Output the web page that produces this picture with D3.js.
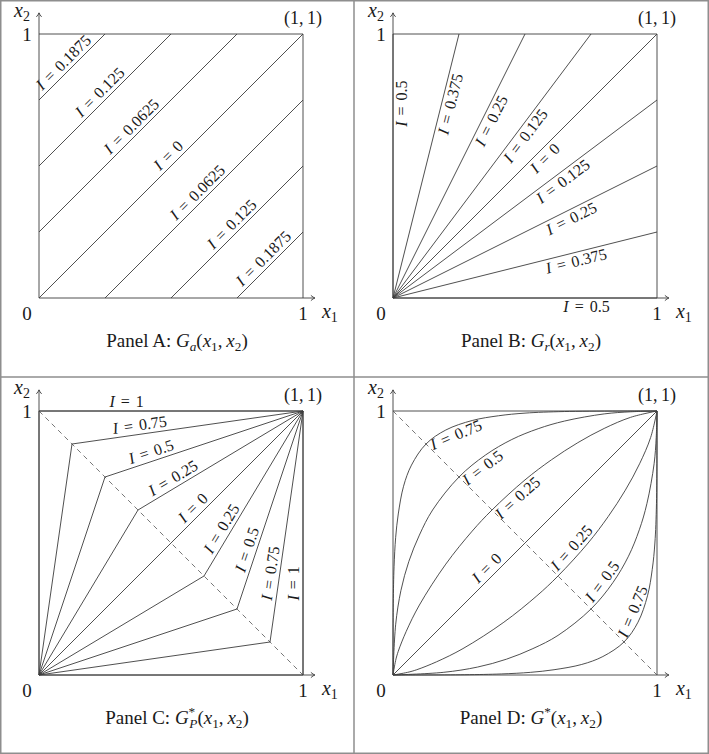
<!DOCTYPE html>
<meta charset="utf-8">
<script src="https://d3js.org/d3.v7.min.js"></script>
<style>
body { margin:0; background:#fff; }
svg { display:block; font-family:"Liberation Serif","Times New Roman",serif; }
.frame { stroke:#8e8e8e; stroke-width:1.5; fill:none; }
.axis, .box, .curve { stroke:#3c3c3c; stroke-width:0.9; fill:none; }
.diag { stroke:#555; stroke-width:0.8; stroke-dasharray:5,4; fill:none; }
text { fill:#1a1a1a; }
</style>
<body></body>
<script>

// Panel A: x2 = x1 + c
var offsetsA = [0.75, 0.5, 0.25, 0, -0.25, -0.5, -0.75];
var labelsA = ["0.1875", "0.125", "0.0625", "0", "0.0625", "0.125", "0.1875"];
var labelAtA = [0.47, 0.51, 0.5, 0.515, 0.5, 0.51, 0.5];

// Panel B: rays from the origin to the box edge
var endsB = [[0, 1], [0.25, 1], [0.5, 1], [0.75, 1], [1, 1], [1, 0.75], [1, 0.5], [1, 0.25], [1, 0]];
var labelsB = ["0.5", "0.375", "0.25", "0.125", "0", "0.125", "0.25", "0.375", "0.5"];
var labelAtB = [0.736, 0.7425, 0.686, 0.634, 0.5525, 0.624, 0.661, 0.686, 0.733];

// Panel C: origin -> kink on the anti-diagonal -> (1,1)
var kinksC = [[0, 1], [0.125, 0.875], [0.25, 0.75], [0.375, 0.625], [0.5, 0.5],
              [0.625, 0.375], [0.75, 0.25], [0.875, 0.125], [1, 0]];
var labelsC = ["1", "0.75", "0.5", "0.25", "0", "0.25", "0.5", "0.75", "1"];
var labelAtC = [0.332, 0.299, 0.248, 0.242, 0.216, 0.257, 0.285, 0.292, 0.347];

// Panel D: curves
var dUpper75 = [[0, 0], [0.001, 0.27], [0.004, 0.41], [0.01, 0.52], [0.02, 0.61], [0.04, 0.715], [0.07, 0.795],
                [0.125, 0.875], [0.2, 0.928], [0.3, 0.964], [0.4, 0.982], [0.5, 0.992], [0.65, 0.998], [1, 1]];
var dUpper50 = [[0, 0], [0.01, 0.19], [0.03, 0.32], [0.06, 0.43], [0.1, 0.53], [0.15, 0.625], [0.25, 0.75],
                [0.35, 0.833], [0.45, 0.892], [0.55, 0.933], [0.65, 0.962], [0.8, 0.989], [0.9, 0.997], [1, 1]];
var dUpper25 = [[0, 0], [0.01, 0.055], [0.02, 0.09], [0.05, 0.165], [0.1, 0.265], [0.2, 0.42], [0.3, 0.545],
                [0.375, 0.625], [0.5, 0.739], [0.6, 0.815], [0.7, 0.88], [0.8, 0.934], [0.9, 0.976], [1, 1]];
var dLine0 = [[0, 0], [1, 1]];
var dLower25 = [[0, 0], [0.055, 0.01], [0.09, 0.02], [0.165, 0.05], [0.265, 0.1], [0.42, 0.2], [0.545, 0.3],
                [0.625, 0.375], [0.739, 0.5], [0.815, 0.6], [0.88, 0.7], [0.934, 0.8], [0.976, 0.9], [1, 1]];
var dLower50 = [[0, 0], [0.19, 0.01], [0.32, 0.03], [0.43, 0.06], [0.53, 0.1], [0.625, 0.15], [0.75, 0.25],
                [0.833, 0.35], [0.892, 0.45], [0.933, 0.55], [0.962, 0.65], [0.989, 0.8], [0.997, 0.9], [1, 1]];
var dLower75 = [[0, 0], [0.27, 0.001], [0.41, 0.004], [0.52, 0.01], [0.61, 0.02], [0.715, 0.04], [0.795, 0.07],
                [0.875, 0.125], [0.928, 0.2], [0.964, 0.3], [0.982, 0.4], [0.992, 0.5], [0.998, 0.65], [1, 1]];
var curvesD = [dUpper75, dUpper50, dUpper25, dLine0, dLower25, dLower50, dLower75];
var labelsD = ["0.75", "0.5", "0.25", "0", "0.25", "0.5", "0.75"];
var labelAtD = [0.226, 0.32, 0.45, 0.38, 0.703, 0.821, 0.94];
var sideD = [1, 1, 1, -1, -1, -1, -1];

var W = 709, H = 754, cellW = 354, cellH = 377;
var plotSize = 264, plotLeft = 39, plotTop = 34;

var svg = d3.select("body").append("svg").attr("width", W).attr("height", H);

var x = d3.scaleLinear().domain([0, 1]).range([plotLeft, plotLeft + plotSize]);
var y = d3.scaleLinear().domain([0, 1]).range([plotTop + plotSize, plotTop]);

// outer frame and dividers
svg.append("rect").attr("class", "frame").attr("x", 0.75).attr("y", 0.75).attr("width", W - 1.5).attr("height", H - 1.5);
svg.append("line").attr("class", "frame").attr("x1", cellW).attr("x2", cellW).attr("y1", 0).attr("y2", H);
svg.append("line").attr("class", "frame").attr("x1", 0).attr("x2", W).attr("y1", cellH).attr("y2", cellH);

// tspans with italic / sub / sup
function rich(sel, parts, fs) {
  var shift = 0;
  parts.forEach(function(p) {
    var s = p[1] || "", f = fs, target = 0;
    var t = sel.append("tspan").text(p[0]);
    if (s.indexOf("sub") >= 0) { f = fs * 0.7; target = fs * 0.22; }
    if (s.indexOf("sup") >= 0) { f = fs * 0.7; target = -fs * 0.4; }
    if (s.charAt(0) === "i") t.style("font-style", "italic");
    t.attr("font-size", f).attr("dy", target - shift);
    if (p[2]) t.attr("dx", p[2]);
    shift = target;
  });
}

function screenAngle(x1, y1, x2, y2) {
  var a = Math.atan2(y2 - y1, x2 - x1) * 180 / Math.PI;
  if (a >= 90) a -= 180;
  if (a < -90) a += 180;
  return a;
}

function placeLabel(g, px, py, ang, val, side) {
  var t = g.append("g")
    .attr("transform", "translate(" + px + "," + py + ") rotate(" + ang + ")")
    .append("text")
    .attr("text-anchor", "middle")
    .attr("font-size", 16)
    .attr("y", side < 0 ? -4 : 14);
  rich(t, [["I", "i"], [" =", "", 2], [" " + val, "", 2]], 16);
}

// label on segment a -> b at fraction s
function segLabel(g, a, b, s, val, side) {
  var px = x(a[0] + s * (b[0] - a[0])), py = y(a[1] + s * (b[1] - a[1]));
  placeLabel(g, px, py, screenAngle(x(a[0]), y(a[1]), x(b[0]), y(b[1])), val, side);
}

function arrow(g, tx, ty, dir) {
  var d = dir === "r"
    ? "M" + (tx - 4) + "," + (ty - 2.6) + "Q" + (tx - 1.5) + "," + (ty - 0.5) + " " + tx + "," + ty +
      "Q" + (tx - 1.5) + "," + (ty + 0.5) + " " + (tx - 4) + "," + (ty + 2.6)
    : "M" + (tx - 2.6) + "," + (ty + 4) + "Q" + (tx - 0.5) + "," + (ty + 1.5) + " " + tx + "," + ty +
      "Q" + (tx + 0.5) + "," + (ty + 1.5) + " " + (tx + 2.6) + "," + (ty + 4);
  g.append("path").attr("class", "axis").attr("d", d);
}

function panel(col, row, title) {
  var g = svg.append("g").attr("transform", "translate(" + col * cellW + "," + row * cellH + ")");

  g.append("line").attr("class", "axis")
    .attr("x1", x(0)).attr("y1", y(0)).attr("x2", x(1.045)).attr("y2", y(0));
  g.append("line").attr("class", "axis")
    .attr("x1", x(0)).attr("y1", y(0)).attr("x2", x(0)).attr("y2", y(1.08));
  arrow(g, x(1.045), y(0), "r");
  arrow(g, x(0), y(1.08), "u");
  g.append("path").attr("class", "box")
    .attr("d", "M" + x(0) + "," + y(1) + "H" + x(1) + "V" + y(0));

  g.append("text").attr("x", x(0) - 12).attr("y", y(1) + 7).attr("text-anchor", "middle")
    .attr("font-size", 19).text("1");
  g.append("text").attr("x", x(0) - 12).attr("y", y(0) + 22).attr("text-anchor", "middle")
    .attr("font-size", 19).text("0");
  g.append("text").attr("x", x(1)).attr("y", y(0) + 22).attr("text-anchor", "middle")
    .attr("font-size", 19).text("1");
  g.append("text").attr("x", x(1)).attr("y", y(1) - 10).attr("text-anchor", "middle")
    .attr("font-size", 18).text("(1,\u20091)");
  rich(g.append("text").attr("x", x(1.045) + 7).attr("y", y(0) + 20), [["x", "i"], ["1", "sub"]], 20);
  rich(g.append("text").attr("x", 14).attr("y", 16.5), [["x", "i"], ["2", "sub"]], 20);

  rich(g.append("text").attr("x", 177).attr("y", 347).attr("text-anchor", "middle"), title, 19);
  return g;
}

var argsTail = [["(", ""], ["x", "i"], ["1", "sub"], [",\u2009", ""], ["x", "i"], ["2", "sub"], [")", ""]];

// Panel A
var gA = panel(0, 0, [["Panel A: ", ""], ["G", "i"], ["a", "isub"]].concat(argsTail));
offsetsA.forEach(function(c, i) {
  var a = c >= 0 ? [0, c] : [-c, 0];
  var b = c >= 0 ? [1 - c, 1] : [1, 1 + c];
  gA.append("line").attr("class", "curve")
    .attr("x1", x(a[0])).attr("y1", y(a[1])).attr("x2", x(b[0])).attr("y2", y(b[1]));
  segLabel(gA, a, b, labelAtA[i], labelsA[i], -1);
});

// Panel B
var gB = panel(1, 0, [["Panel B: ", ""], ["G", "i"], ["r", "isub"]].concat(argsTail));
endsB.forEach(function(e, i) {
  gB.append("line").attr("class", "curve")
    .attr("x1", x(0)).attr("y1", y(0)).attr("x2", x(e[0])).attr("y2", y(e[1]));
  segLabel(gB, [0, 0], e, labelAtB[i], labelsB[i], 1);
});

// Panel C
var gC = panel(0, 1, [["Panel C: ", ""], ["G", "i"], ["*", "sup"], ["P", "isub", -6]].concat(argsTail));
gC.append("line").attr("class", "diag")
  .attr("x1", x(0)).attr("y1", y(1)).attr("x2", x(1)).attr("y2", y(0));
var lineC = d3.line().x(function(d) { return x(d[0]); }).y(function(d) { return y(d[1]); });
kinksC.forEach(function(k, i) {
  gC.append("path").attr("class", "curve").attr("d", lineC([[0, 0], k, [1, 1]]));
  segLabel(gC, k, [1, 1], labelAtC[i], labelsC[i], -1);
});

// Panel D
var gD = panel(1, 1, [["Panel D: ", ""], ["G", "i"], ["*", "sup"]].concat(argsTail));
gD.append("line").attr("class", "diag")
  .attr("x1", x(0)).attr("y1", y(1)).attr("x2", x(1)).attr("y2", y(0));
var lineD = d3.line().x(function(d) { return x(d[0]); }).y(function(d) { return y(d[1]); })
  .curve(d3.curveCatmullRom.alpha(0.5));
curvesD.forEach(function(pts, i) {
  var node = gD.append("path").attr("class", "curve").attr("d", lineD(pts)).node();
  var target = x(labelAtD[i]), lo = 0, hi = node.getTotalLength();
  for (var k = 0; k < 40; k++) {
    var m = (lo + hi) / 2;
    if (node.getPointAtLength(m).x < target) lo = m; else hi = m;
  }
  var p = node.getPointAtLength(lo),
      p1 = node.getPointAtLength(Math.max(0, lo - 12)),
      p2 = node.getPointAtLength(lo + 12);
  placeLabel(gD, p.x, p.y, screenAngle(p1.x, p1.y, p2.x, p2.y), labelsD[i], sideD[i]);
});

</script>
